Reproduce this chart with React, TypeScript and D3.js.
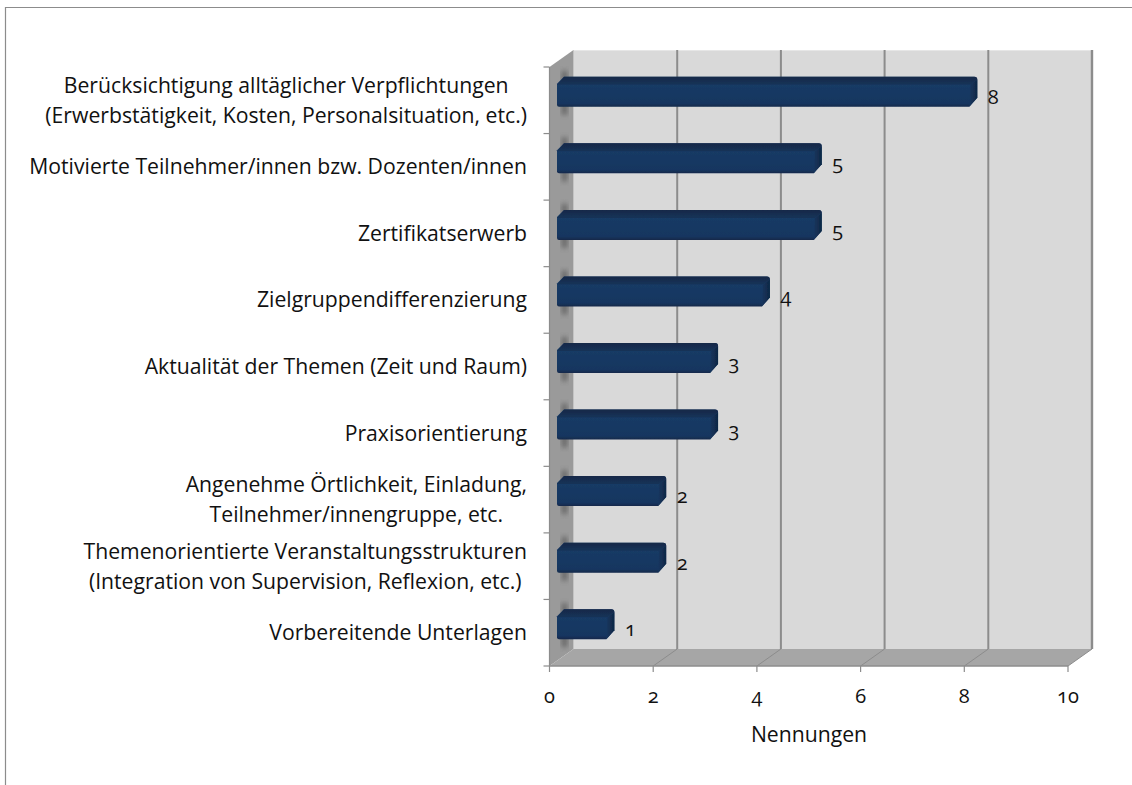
import React, { useEffect, useRef } from "react";
import * as d3 from "d3";

const categories = [
  ["Berücksichtigung alltäglicher Verpflichtungen", "(Erwerbstätigkeit, Kosten, Personalsituation, etc.)"],
  ["Motivierte Teilnehmer/innen bzw. Dozenten/innen"],
  ["Zertifikatserwerb"],
  ["Zielgruppendifferenzierung"],
  ["Aktualität der Themen (Zeit und Raum)"],
  ["Praxisorientierung"],
  ["Angenehme Örtlichkeit, Einladung,", "Teilnehmer/innengruppe, etc."],
  ["Themenorientierte Veranstaltungsstrukturen", "(Integration von Supervision, Reflexion, etc.)"],
  ["Vorbereitende Unterlagen"],
];
const values = [8, 5, 5, 4, 3, 3, 2, 2, 1];
const xTicks = [0, 2, 4, 6, 8, 10];
const axisTitle = "Nennungen";

const FONT = "'Open Sans', 'Noto Sans', sans-serif";
const LABEL_SIZE = 21.2;

const App = () => {
  const svg_ref = useRef<SVGSVGElement>(null);

  useEffect(() => {
    const svg = d3.select(svg_ref.current);
    svg.selectChildren().remove();

    const depth_x = 24;
    const depth_y = 17;
    const x_scale = d3.scaleLinear().domain([0, 10]).range([549.5, 1068]);
    const y_scale = d3.scaleBand<number>().domain(d3.range(categories.length)).range([67, 666]);
    const y_top = 67, y_bottom = 666;
    const x0 = x_scale(0), x1 = x_scale(10);

    const defs = svg.append("defs");
    const grad = (id: string, stops: [number, string][], horiz = false) => {
      const g = defs.append("linearGradient").attr("id", id)
        .attr("x1", 0).attr("y1", 0).attr("x2", horiz ? 1 : 0).attr("y2", horiz ? 0 : 1);
      stops.forEach(([o, c]) => g.append("stop").attr("offset", o).attr("stop-color", c));
    };
    grad("barFace", [[0, "#1e4070"], [0.14, "#1a3b66"], [0.88, "#163660"], [1, "#12294a"]]);
    grad("barTop", [[0, "#142848"], [1, "#183358"]]);
    grad("barEnd", [[0, "#17365f"], [1, "#0f2745"]], true);
    defs.append("filter").attr("id", "blur").append("feGaussianBlur").attr("stdDeviation", 2.8);
    defs.append("filter").attr("id", "soft").append("feGaussianBlur").attr("stdDeviation", 0.5);

    // page frame
    svg.append("path").attr("d", "M5.5,785V7.5H1132").attr("fill", "none").attr("stroke", "#8c8c8c").attr("stroke-width", 1.2);

    // walls
    const poly = (pts: number[][], fill: string) =>
      svg.append("polygon").attr("points", pts.join(" ")).attr("fill", fill);
    poly([[x0 + depth_x, y_top - depth_y], [x1 + depth_x, y_top - depth_y], [x1 + depth_x, y_bottom - depth_y], [x0 + depth_x, y_bottom - depth_y]], "#d9d9d9");
    svg.append("line").attr("x1", x0 + depth_x).attr("x2", x1 + depth_x)
      .attr("y1", y_top - depth_y + 0.5).attr("y2", y_top - depth_y + 0.5)
      .attr("stroke", "#e6e6e6").attr("stroke-width", 1);
    poly([[x0, y_top], [x0 + depth_x, y_top - depth_y], [x0 + depth_x, y_bottom - depth_y], [x0, y_bottom]], "#9a9a9a");
    poly([[x0, y_bottom], [x0 + depth_x, y_bottom - depth_y], [x1 + depth_x, y_bottom - depth_y], [x1, y_bottom]], "#a6a6a6");

    // grid lines on back wall and floor
    xTicks.forEach((t) => {
      const x = x_scale(t);
      if (t > 0) {
        svg.append("line").attr("x1", x + depth_x).attr("x2", x + depth_x)
          .attr("y1", y_top - depth_y).attr("y2", y_bottom - depth_y)
          .attr("stroke", "#8c8c8c").attr("stroke-width", t === 10 ? 2.4 : 2);
        svg.append("line").attr("x1", x).attr("x2", x + depth_x)
          .attr("y1", y_bottom).attr("y2", y_bottom - depth_y)
          .attr("stroke", "#8c8c8c").attr("stroke-width", 1);
      }
      svg.append("line").attr("x1", x).attr("x2", x).attr("y1", y_bottom).attr("y2", y_bottom + 6)
        .attr("stroke", "#8c8c8c").attr("stroke-width", 1.2);
    });

    // axis lines
    svg.append("line").attr("x1", x0).attr("x2", x1).attr("y1", y_bottom).attr("y2", y_bottom)
      .attr("stroke", "#8c8c8c").attr("stroke-width", 1.5);
    svg.append("line").attr("x1", x0).attr("x2", x0).attr("y1", y_top).attr("y2", y_bottom)
      .attr("stroke", "#8c8c8c").attr("stroke-width", 1.2);
    d3.range(categories.length + 1).forEach((i) => {
      const y = y_top + i * y_scale.step();
      svg.append("line").attr("x1", x0 - 6).attr("x2", x0).attr("y1", y).attr("y2", y)
        .attr("stroke", "#8c8c8c").attr("stroke-width", 1.2);
    });

    // bars
    const bar_h = 30;
    const bar_left = x0 + 7.5;
    values.forEach((v, i) => {
      const c = y_scale(i)! + y_scale.bandwidth() / 2;
      const top = c - 23.5;
      const bot = top + bar_h;
      const right = x_scale(v) + 13;
      // shadow on the side wall
      svg.append("rect").attr("x", x0 + 12).attr("y", top - 6).attr("width", 6).attr("height", bar_h + 14)
        .attr("fill", "#4a4a4a").attr("opacity", 0.6).attr("filter", "url(#blur)");
      const bar = svg.append("g").attr("filter", "url(#soft)");
      const outline = `M${bar_left + 7},${top} H${right - 3} Q${right},${top} ${right},${top + 3} V${bot - 9} L${right - 8},${bot} H${bar_left + 2} Q${bar_left},${bot} ${bar_left},${bot - 2} V${top + 7} Z`;
      bar.append("path").attr("d", outline).attr("fill", "url(#barFace)");
      bar.append("path").attr("d", `M${bar_left + 7},${top} H${right - 3} Q${right},${top} ${right},${top + 3} L${right - 7},${top + 8} H${bar_left} Z`).attr("fill", "url(#barTop)");
      bar.append("path").attr("d", `M${right - 7},${top + 8} L${right},${top + 3} V${bot - 9} L${right - 8},${bot} Z`).attr("fill", "url(#barEnd)");

      // data label
      svg.append("text").attr("x", right + 16).attr("y", c + 3.5)
        .attr("text-anchor", "middle").attr("font-size", 20).attr("fill", "#111")
        .style("font-family", FONT).style("font-feature-settings", "'onum'")
        .text(v);

      // category label, lines centred in a right-aligned block
      const lines = categories[i];
      const group = svg.append("g");
      const nodes = lines.map((l, k) =>
        group.append("text").attr("y", c + 7.5 + (k - (lines.length - 1) / 2) * 30)
          .attr("font-size", LABEL_SIZE).attr("fill", "#111").style("font-family", FONT).text(l)
      );
      const widest = d3.max(nodes, (n) => (n.node() as SVGTextElement).getComputedTextLength()) ?? 0;
      nodes.forEach((n) => n.attr("x", 527 - widest / 2).attr("text-anchor", "middle"));
    });

    // x tick labels
    xTicks.forEach((t) => {
      svg.append("text").attr("x", x_scale(t)).attr("y", 703).attr("text-anchor", "middle")
        .attr("font-size", 20).attr("fill", "#111")
        .style("font-family", FONT).style("font-feature-settings", "'onum'").text(t);
    });
    svg.append("text").attr("x", 809).attr("y", 742).attr("text-anchor", "middle")
      .attr("font-size", LABEL_SIZE).attr("fill", "#111").style("font-family", FONT).text(axisTitle);
  }, []);

  return (
    <svg ref={svg_ref} width={1132} height={785}
      style={{ position: "absolute", left: 0, top: 0, display: "block" }} />
  );
};

export default App;
